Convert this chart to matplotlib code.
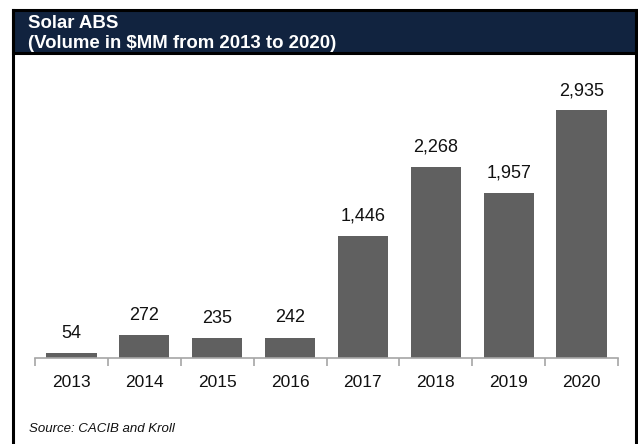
import matplotlib.pyplot as plt
from matplotlib.patches import Rectangle

years = ["2013", "2014", "2015", "2016", "2017", "2018", "2019", "2020"]
volume = [54, 272, 235, 242, 1446, 2268, 1957, 2935]

W, H = 638, 444
plt.rcParams['font.family'] = ['Liberation Sans', 'DejaVu Sans']

fig = plt.figure(figsize=(W / 100, H / 100), dpi=100)


def fx(px):
    return px / W


def fy(py):
    return 1 - py / H


# header band and outer frame
fig.patches.append(Rectangle((fx(13), fy(53)), fx(623), 43 / H, transform=fig.transFigure,
                             facecolor='#11233f', edgecolor='black', linewidth=2.2))
fig.add_artist(plt.Line2D([fx(13), fx(13)], [fy(10), 0], transform=fig.transFigure, color='black', lw=2.2))
fig.add_artist(plt.Line2D([fx(636), fx(636)], [fy(10), 0], transform=fig.transFigure, color='black', lw=2.2))

fig.text(fx(28), fy(28.5), "Solar ABS", color='white', fontsize=13.4, fontweight='bold', va='baseline')
fig.text(fx(28), fy(48), "(Volume in $MM from 2013 to 2020)", color='white', fontsize=13.4,
         fontweight='bold', va='baseline')

ax = fig.add_axes([fx(35), 1 - 358 / H, fx(618) - fx(35), (358 - 71) / H])
x = range(len(years))
bars = ax.bar(x, volume, width=0.69, color='#606060')
ax.bar_label(bars, labels=[f"{v:,}" for v in volume], padding=8, fontsize=13, color='#111111')

ax.set_xlim(-0.5, len(years) - 0.5)
ax.set_ylim(0, 3400)
ax.set_yticks([])
for s in ['top', 'right', 'left']:
    ax.spines[s].set_visible(False)
ax.spines['bottom'].set_color('#a6a6a6')
ax.spines['bottom'].set_linewidth(1.2)
ax.set_xticks(list(x))
ax.set_xticklabels(years, fontsize=12.5, color='#111111')
ax.tick_params(axis='x', which='major', length=0, pad=12)
ax.set_xticks([i - 0.5 for i in range(len(years) + 1)], minor=True)
ax.tick_params(axis='x', which='minor', length=6, color='#a6a6a6', width=1.2)

fig.text(fx(29), fy(429), "Source: CACIB and Kroll", fontsize=9.5, style='italic', va='center', color='#111111')

fig.savefig("out.png", dpi=100)
